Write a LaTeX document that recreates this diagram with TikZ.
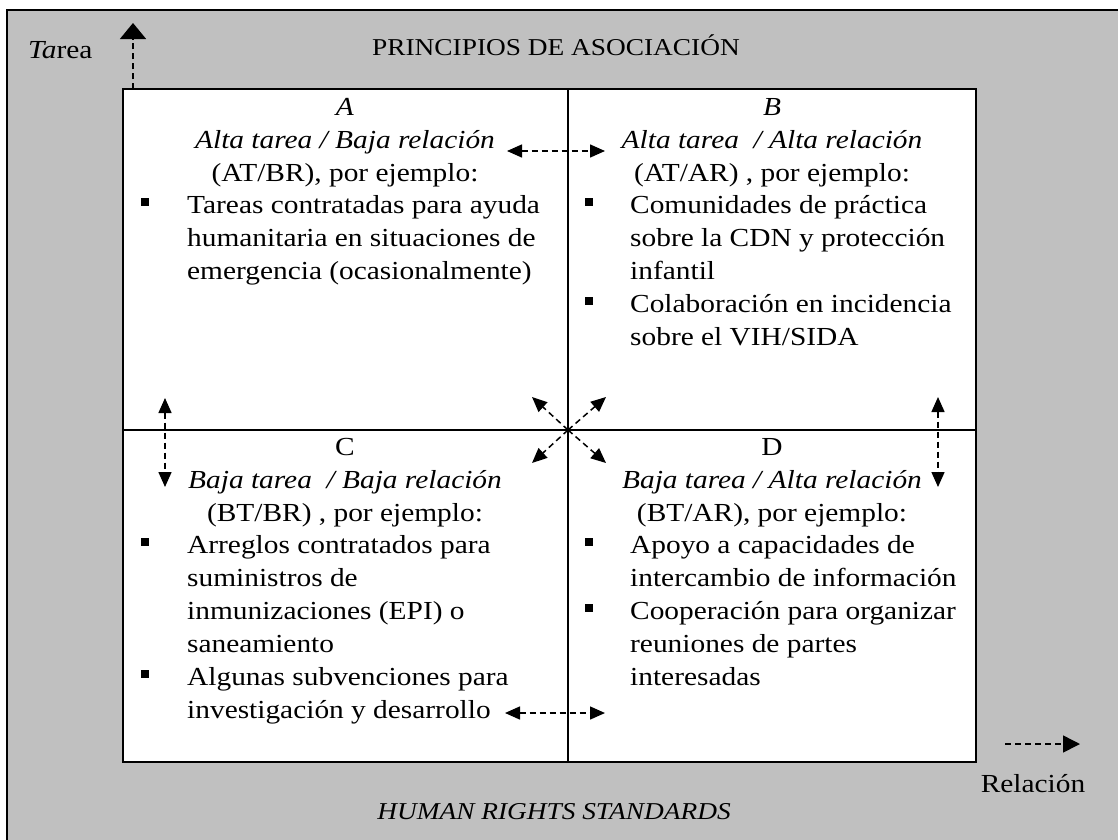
\documentclass[tikz,border=0pt]{standalone}
\usepackage{fontspec}
\setmainfont{Liberation Serif}[FakeStretch=1.13]
\usetikzlibrary{arrows.meta}
\definecolor{bggray}{HTML}{C0C0C0}
\begin{document}
\begin{tikzpicture}[x=1pt,y=-1pt,
  txt/.style={inner sep=0pt, font=\fontsize{26}{33}\selectfont},
  captxt/.style={inner sep=0pt, anchor=base, font=\fontsize{24.2}{33}\selectfont},
  ln/.style={txt, anchor=base west},
  ct/.style={txt, anchor=base},
  bul/.style={fill=black, minimum size=7.5pt, inner sep=0pt, draw=none, rectangle},
  darr/.style={line width=1.5pt, dash pattern=on 6pt off 4pt, {Triangle[length=15pt,width=13pt]}-{Triangle[length=15pt,width=13pt]}},
  sarr/.style={line width=1.5pt, dash pattern=on 6pt off 4pt, -{Triangle[length=15pt,width=13pt]}},
  frame/.style={line width=2pt},
]
\useasboundingbox (0,0) rectangle (1118,839);
\clip (0,0) rectangle (1118,839);
% background panel
\filldraw[fill=bggray, draw=black, line width=2.5pt] (7,10) rectangle (1140,860);
% quadrant grid
\filldraw[fill=white, draw=black, frame] (123,89) rectangle (976,762);
\coordinate (vt) at (568,89);
\coordinate (vb) at (568,762);
\coordinate (hl) at (123,430);
\coordinate (hr) at (976,430);
\draw[frame] (vt) -- (vb);
\draw[frame] (hl) -- (hr);

% titles and axes
\node[captxt] (title) at (556,55) {PRINCIPIOS DE ASOCIACIÓN};
\node[captxt] (hrs) at (554,819) {\textit{HUMAN RIGHTS STANDARDS}};
\node[ln] (tarea) at (28,58) {\textit{Ta}rea};
\node[ct] (relacion) at (1033,792) {Relación};

\coordinate (tbase) at (133,89);
\coordinate (ttip) at (133,23);
\draw[line width=1.5pt, dash pattern=on 6pt off 4pt, -{Triangle[length=16pt,width=26pt]}] (tbase) -- (ttip);
\coordinate (rbase) at (1005,744);
\coordinate (rtip) at (1080,744);
\draw[line width=1.5pt, dash pattern=on 6pt off 4pt, -{Triangle[length=17pt,width=17pt]}] (rbase) -- (rtip);

% Quadrant A
\node[ct] (aT) at (345,115) {\textit{A}};
\node[ct] (a1) at (345,148) {\textit{Alta tarea / Baja relación}};
\node[ct] (a2) at (345,181) {(AT/BR), por ejemplo:};
\node[bul] (ab1) at (145,202) {};
\node[ln] (a3) at (187,213) {Tareas contratadas para ayuda};
\node[ln] (a4) at (187,246) {humanitaria en situaciones de};
\node[ln] (a5) at (187,279) {emergencia (ocasionalmente)};

% Quadrant B
\node[ct] (bT) at (772,115) {\textit{B}};
\node[ct] (b1) at (772,148) {\textit{Alta tarea \ / Alta relación}};
\node[ct] (b2) at (772,181) {(AT/AR) , por ejemplo:};
\node[bul] (bb1) at (589,202) {};
\node[ln] (b3) at (630,213) {Comunidades de práctica};
\node[ln] (b4) at (630,246) {sobre la CDN y protección};
\node[ln] (b5) at (630,279) {infantil};
\node[bul] (bb2) at (589,301) {};
\node[ln] (b6) at (630,312) {Colaboración en incidencia};
\node[ln] (b7) at (630,345) {sobre el VIH/SIDA};

% Quadrant C
\node[ct] (cT) at (345,455) {C};
\node[ct] (c1) at (345,488) {\textit{Baja tarea \ / Baja relación}};
\node[ct] (c2) at (345,521) {(BT/BR) , por ejemplo:};
\node[bul] (cb1) at (145,542) {};
\node[ln] (c3) at (187,553) {Arreglos contratados para};
\node[ln] (c4) at (187,586) {suministros de};
\node[ln] (c5) at (187,619) {inmunizaciones (EPI) o};
\node[ln] (c6) at (187,652) {saneamiento};
\node[bul] (cb2) at (145,674) {};
\node[ln] (c7) at (187,685) {Algunas subvenciones para};
\node[ln] (c8) at (187,718) {investigación y desarrollo};

% Quadrant D
\node[ct] (dT) at (772,455) {D};
\node[ct] (d1) at (772,488) {\textit{Baja tarea / Alta relación}};
\node[ct] (d2) at (772,521) {(BT/AR), por ejemplo:};
\node[bul] (db1) at (589,542) {};
\node[ln] (d3) at (630,553) {Apoyo a capacidades de};
\node[ln] (d4) at (630,586) {intercambio de información};
\node[bul] (db2) at (589,608) {};
\node[ln] (d5) at (630,619) {Cooperación para organizar};
\node[ln] (d6) at (630,652) {reuniones de partes};
\node[ln] (d7) at (630,685) {interesadas};

% relation arrows
\coordinate (abL) at (507,151);
\coordinate (abR) at (605,151);
\draw[darr] (abL) -- (abR);
\coordinate (cdL) at (505,713);
\coordinate (cdR) at (605,713);
\draw[darr] (cdL) -- (cdR);
\coordinate (acT) at (165,398);
\coordinate (acB) at (165,487);
\draw[darr] (acT) -- (acB);
\coordinate (bdT) at (938,397);
\coordinate (bdB) at (938,487);
\draw[darr] (bdT) -- (bdB);
\coordinate (ctr) at (568,430);
\coordinate (ul) at (532,397);
\coordinate (ur) at (606,397);
\coordinate (ll) at (532,463);
\coordinate (lr) at (606,463);
\draw[sarr] (ctr) -- (ul);
\draw[sarr] (ctr) -- (ur);
\draw[sarr] (ctr) -- (ll);
\draw[sarr] (ctr) -- (lr);
\end{tikzpicture}
\end{document}
